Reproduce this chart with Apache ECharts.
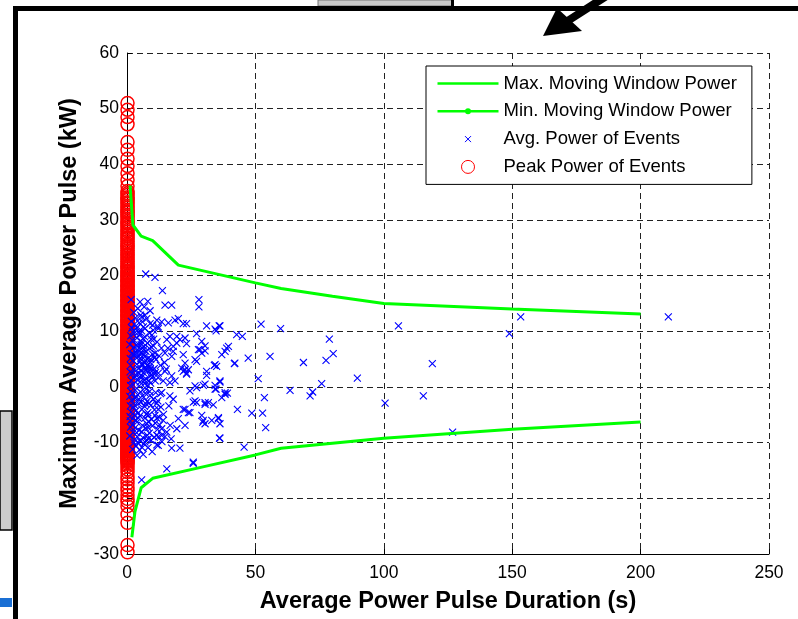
<!DOCTYPE html>
<html>
<head>
<meta charset="utf-8">
<script src="https://cdn.jsdelivr.net/npm/echarts@6/dist/echarts.min.js"></script>
<style>
html,body{margin:0;padding:0;background:#fff;}
#chart{width:798px;height:619px;}
</style>
</head>
<body>
<div id="chart"></div>
<script>
// ---- Data ----
const xTicks = [0, 50, 100, 150, 200, 250];
const yTicks = [-30, -20, -10, 0, 10, 20, 30, 40, 50, 60];

const seriesNames = ['Max. Moving Window Power', 'Min. Moving Window Power', 'Avg. Power of Events', 'Peak Power of Events'];

// Max / min moving window power: [duration (s), power (kW)]
const maxWindow = [[1.2,36.2],[2.3,29.1],[5.5,27.1],[10,26.3],[20,21.9],[50,18.7],[60,17.7],[80,16.3],[100,15.0],[150,14.0],[200,13.1]];
const minWindow = [[1.9,-27.0],[3.1,-22.4],[5.5,-18.1],[10,-16.4],[30,-14.3],[50,-12.2],[60,-11.0],[80,-10.1],[100,-9.2],[150,-7.6],[200,-6.3]];

// Average power of events: [duration (s), power (kW)]
const avgEvents = [
 // dense core, positive side
 [1.5,9.2],[2.1,8.4],[2.6,7.1],[3.2,9.8],[3.5,6.2],[3.9,8.8],[4.3,5.4],[4.6,7.6],[5.0,9.5],[5.2,4.6],[5.5,6.8],[5.8,8.1],[6.1,3.9],[6.3,5.7],[6.6,7.3],[6.9,9.0],[7.2,4.8],[7.4,6.4],[7.7,2.9],[8.0,7.9],[8.3,5.2],[8.5,3.6],[8.8,6.9],[9.1,4.4],[9.4,8.6],[9.6,2.2],[9.9,5.9],[10.3,7.4],[10.6,3.3],[10.9,6.1],[11.3,4.9],[11.7,8.1],[12.1,1.7],[12.5,5.6],[13.0,3.9],[13.4,7.0],
 [2.3,4.8],[2.8,3.1],[3.0,5.6],[3.4,2.2],[3.8,4.1],[4.1,1.3],[4.4,3.3],[4.8,2.5],[5.1,0.9],[5.4,3.0],[5.9,1.8],[6.4,2.6],[6.8,0.6],[7.3,1.5],[7.9,0.3],[8.6,1.1],[9.2,0.7],[1.8,6.0],[1.4,3.9],[1.6,1.2],[2.0,2.5],[2.4,0.4],[4.0,6.7],[4.9,5.9],[6.0,6.1],[7.0,5.5],[8.1,4.0],[9.0,3.1],[10.0,1.9],[11.0,2.6],[3.6,7.5],[5.6,4.1],[6.7,4.4],[7.6,3.4],[4.5,9.9],[6.4,10.8],[8.8,9.7],[2.9,11.3],[3.3,12.4],[5.3,12.9],[1.9,10.6],
 [1.1,7.6],[1.3,5.1],[1.2,2.7],[1.4,0.3],[1.7,11.8],[2.2,9.9],[2.5,5.9],[2.7,1.6],[3.8,10.6],[4.7,11.5],[2.6,13.4],[4.2,14.1],[4.8,0.2],[5.0,1.8],[5.3,5.2],[5.5,7.6],[5.7,10.1],[6.0,11.7],[6.2,8.7],[6.5,6.7],[6.7,3.3],[6.9,1.2],[9.0,2.0],[9.2,5.0],[9.4,7.2],[9.7,9.3],[10.0,11.1],[10.4,8.6],[10.7,5.3],[11.0,1.1],[14.6,4.4],[15.3,3.2],[15.9,7.0],
 // dense core, negative side
 [1.5,-0.8],[1.8,-2.4],[2.2,-1.2],[2.5,-3.6],[2.8,-5.1],[3.1,-0.5],[3.3,-2.0],[3.6,-4.2],[3.9,-6.3],[4.2,-1.4],[4.5,-3.0],[4.7,-7.8],[5.0,-5.2],[5.3,-0.9],[5.5,-2.7],[5.8,-4.0],[6.0,-6.9],[6.2,-9.1],[6.5,-1.8],[6.8,-3.5],[7.0,-5.6],[7.3,-7.4],[7.5,-0.4],[7.8,-2.6],[8.1,-4.6],[8.4,-6.2],[8.7,-8.3],[9.0,-1.5],[9.3,-3.3],[9.6,-5.8],[9.9,-7.0],[10.3,-2.2],[10.7,-4.1],[11.0,-6.5],[11.5,-3.0],[11.9,-7.6],[12.4,-5.4],[13.0,-1.2],[2.0,-6.8],[2.4,-8.2],[3.0,-9.4],[3.5,-10.6],[4.0,-8.9],[4.4,-5.6],[5.2,-9.7],[5.7,-8.0],[6.6,-10.2],[7.7,-9.5],[8.2,-10.9],[3.2,-7.3],[1.6,-4.5],[1.3,-6.1],[2.7,-10.0],[4.9,-11.3],[9.4,-9.6],
 [1.1,-1.7],[1.3,-3.4],[1.2,-5.3],[1.4,-7.2],[1.1,-8.8],[2.9,-1.9],[3.0,-3.3],[3.4,-5.9],[3.7,-8.2],[4.1,-9.9],[4.3,-4.7],[4.6,-2.2],[7.1,-1.1],[7.3,-3.0],[7.5,-4.9],[7.7,-6.6],[7.9,-8.7],[8.2,-7.3],[8.4,-5.1],[8.6,-2.9],[8.8,-0.8],[11.2,-1.0],[11.6,-5.6],[12.0,-2.5],[12.3,-8.9],[12.7,-6.8],[13.2,-3.6],[13.6,-9.8],[14.2,-4.9],[16.3,-3.4],[16.8,-6.9],[17.2,-9.3],[9.8,-11.6],[10.6,-9.0],[2.2,-11.2],[3.9,-12.3],[5.9,-10.9],
 // middle range
 [7.3,20.3],[10.9,19.7],[13.8,17.3],[1.6,15.7],[5.1,15.3],[8.1,15.4],[6.7,14.4],[9.0,13.7],[14.8,14.7],[17.4,14.7],[28.0,15.7],[28.0,14.4],[7.0,12.9],[5.7,12.6],[7.7,12.3],[11.6,12.0],[9.0,11.4],[13.5,11.7],[12.2,10.8],[16.1,11.5],[18.7,12.0],[20.0,12.3],[21.9,11.4],[23.2,11.4],[31.0,11.0],[34.3,10.4],[36.2,11.0],[7.0,10.5],[10.2,10.2],[12.2,10.5],[19.4,9.1],[22.6,8.8],[23.2,7.8],[29.1,8.2],[30.4,7.4],[27.8,6.7],[36.9,5.8],[38.2,6.4],[34.3,4.0],[34.9,3.7],[31.0,2.8],[42.0,4.3],[26.5,4.9],[22.6,4.3],[23.9,3.1],[17.4,5.5],[14.8,6.1],[16.7,9.1],[15.5,8.5],[18.0,7.3],[19.4,7.9],[20.6,8.5],[18.0,6.4],[21.9,5.8],[27.1,9.6],
 [10.2,3.1],[12.2,2.5],[14.8,2.8],[17.4,2.0],[18.7,1.1],[21.9,2.8],[23.2,2.3],[21.3,3.4],[27.1,-0.1],[26.5,0.2],[30.4,0.5],[34.3,-0.4],[36.2,0.9],[38.2,-1.3],[36.9,-1.9],[26.5,-2.5],[30.4,-2.8],[33.6,-3.2],[22.6,-4.0],[24.5,-4.6],[20.0,-5.7],[22.6,-6.9],[19.4,-7.5],[15.5,-8.1],[29.1,-5.1],[29.7,-6.0],[30.4,-6.6],[35.6,-5.7],[36.2,-6.6],[12.2,-4.0],[10.9,-5.1],[14.1,-6.0],[14.8,-8.9],[13.5,-8.7],[17.4,-11.0],[20.6,-11.0],[11.6,-10.4],[6.3,-12.1],[36.2,-9.2],[25.8,-13.5],[15.5,-14.7],[5.7,-16.7],[7.0,-9.9],[8.3,-9.3],[12.2,-10.5],[14.1,1.1],[16.7,0.8],[13.5,-1.0],[18.0,-2.2],[16.7,-1.6],[11.6,-8.7],[13.5,-7.5],[21.9,-4.0],[23.9,-4.6],[24.5,-0.7],[29.7,0.3],[34.3,0.3],[23.2,2.5],[22.6,3.1],[27.1,4.6],[29.1,6.1],[28.4,6.7],[30.4,6.5],
 // sparse, longer events
 [39.5,7.3],[38.8,7.0],[44.9,9.1],[42.7,9.4],[35.9,11.0],[34.7,10.1],[52.2,11.3],[59.8,10.5],[55.7,5.5],[47.2,5.2],[41.8,4.2],[68.7,4.4],[77.5,4.8],[51.1,1.5],[75.8,0.6],[72.3,-0.9],[71.3,-1.6],[63.5,-0.6],[53.5,-1.9],[34.0,3.9],[31.0,2.1],[36.2,1.1],[34.7,-0.4],[38.2,-1.0],[39.1,-1.1],[43.0,-4.0],[48.6,-4.7],[52.8,-4.7],[54.0,-7.3],[36.0,-9.2],[45.6,-10.8],[25.8,-13.7],[78.8,8.6],[80.3,6.0],[89.7,1.6],[105.7,11.0],[118.9,4.2],[100.5,-2.9],[115.4,-1.6],[126.8,-8.1],[148.9,9.6],[153.3,12.6],[210.8,12.6],[33.0,-6.0],[35.6,-5.5],[29.5,-6.3],[31.7,-2.8],[30.4,-3.1],[27.1,-2.8],[25.8,-2.7]
];

// Peak power of events (kW), all at very short durations
const peakDuration = 0.2;
const peakPower = [
 51.0,49.8,48.5,47.2,44.0,42.6,41.0,39.7,38.4,37.2,36.1,35.2,
 34.8,34.5,34.1,33.8,33.6,33.2,32.9,32.5,32.2,31.8,31.5,31.3,30.9,30.6,30.2,29.8,29.5,29.3,28.9,28.6,28.2,27.9,27.5,27.2,26.8,26.6,26.2,25.8,25.5,25.3,24.9,24.5,24.2,23.8,23.6,23.2,22.9,22.5,22.2,21.8,21.6,21.3,20.9,20.6,20.4,20.1,
 19.9,19.7,19.4,19.2,19.0,18.8,18.5,18.3,18.1,17.9,17.6,17.4,17.2,17.0,16.7,16.5,16.3,16.1,15.8,15.6,15.4,15.2,14.9,14.7,14.5,14.3,14.0,13.8,13.6,13.4,13.1,12.9,12.7,12.5,12.2,12.0,11.8,11.6,11.3,11.1,10.9,10.7,10.4,10.2,
 10.0,9.8,9.7,9.5,9.3,9.2,9.0,8.8,8.7,8.5,8.4,8.2,8.0,7.9,7.7,7.5,7.4,7.2,7.1,6.9,6.7,6.6,6.4,6.2,6.1,5.9,5.8,5.6,5.4,5.3,5.1,4.9,4.8,4.6,4.5,4.3,4.1,4.0,3.8,3.6,3.5,3.3,3.2,3.0,2.8,2.7,2.5,2.3,2.2,2.0,1.9,1.7,1.5,1.4,1.2,1.0,0.9,0.7,0.6,0.4,0.2,0.1,
 -0.1,-0.3,-0.4,-0.6,-0.7,-0.9,-1.1,-1.2,-1.4,-1.6,-1.7,-1.9,-2.0,-2.2,-2.4,-2.5,-2.7,-2.9,-3.0,-3.2,-3.3,-3.5,-3.7,-3.8,-4.0,-4.2,-4.3,-4.5,-4.6,-4.8,-5.0,-5.1,-5.3,-5.5,-5.6,-5.8,-5.9,-6.1,-6.3,-6.4,-6.6,-6.8,-6.9,-7.1,-7.2,-7.4,-7.6,-7.7,-7.9,-8.1,-8.2,-8.4,-8.5,-8.7,-8.9,-9.0,-9.2,-9.4,-9.5,-9.7,-9.8,-10.0,-10.2,-10.3,-10.5,-10.7,-10.8,-11.0,-11.1,-11.3,-11.5,-11.6,-11.8,-12.0,-12.1,-12.3,-12.4,-12.6,-12.8,-12.9,-13.1,-13.3,-13.5,-13.8,
 -14.2,-14.8,-15.3,-16.0,-16.6,-17.3,-18.0,-18.6,-19.4,-20.1,-20.6,-21.4,-22.9,-24.4,-28.4,-29.7
];

// ---- Chart ----
const FONT = "'Liberation Sans', Arial, Helvetica, sans-serif";
const GREEN = '#00ff00', BLUE = '#0000ff', RED = '#ff0000';
const CROSS = 'path://M0,0M20,20M5,5L15,15M15,5L5,15';

const chart = echarts.init(document.getElementById('chart'), null, {renderer: 'canvas'});
chart.setOption({
  animation: false,
  backgroundColor: '#ffffff',
  textStyle: {fontFamily: FONT, color: '#000'},
  grid: {left: 127, right: 29, top: 53, bottom: 59, containLabel: false},
  xAxis: {
    type: 'value', min: xTicks[0], max: xTicks[xTicks.length - 1], interval: 50,
    name: 'Average Power Pulse Duration (s)', nameLocation: 'middle', nameGap: 36,
    nameTextStyle: {fontFamily: FONT, fontSize: 23.5, fontWeight: 'bold', color: '#000'},
    axisLine: {show: true, onZero: false, lineStyle: {color: '#000', width: 1}},
    axisTick: {show: true, inside: true, length: 5, lineStyle: {color: '#000'}},
    axisLabel: {fontFamily: FONT, fontSize: 17.5, color: '#000', margin: 10},
    splitLine: {show: true, lineStyle: {color: '#222', type: [6, 4], width: 1}}
  },
  yAxis: {
    type: 'value', min: yTicks[0], max: yTicks[yTicks.length - 1], interval: 10,
    name: 'Maximum Average Power Pulse (kW)', nameLocation: 'middle', nameGap: 45,
    nameTextStyle: {fontFamily: FONT, fontSize: 23.5, fontWeight: 'bold', color: '#000'},
    axisLine: {show: true, onZero: false, lineStyle: {color: '#000', width: 1}},
    axisTick: {show: true, inside: true, length: 5, lineStyle: {color: '#000'}},
    axisLabel: {fontFamily: FONT, fontSize: 17.5, color: '#000', margin: 8},
    splitLine: {show: true, lineStyle: {color: '#222', type: [6, 4], width: 1}}
  },
  legend: {
    orient: 'vertical', left: 426, top: 66,
    padding: [8, 15, 8, 11], itemGap: 8.8, itemWidth: 61, itemHeight: 13,
    backgroundColor: '#fff', borderColor: '#000', borderWidth: 1, borderRadius: 0,
    selectedMode: false,
    textStyle: {fontFamily: FONT, fontSize: 18.5, color: '#000'},
    data: [
      {name: seriesNames[0], icon: 'path://M0,0M61,13M0,5.2L61,5.2L61,7.8L0,7.8Z', itemStyle: {color: GREEN, borderWidth: 0}},
      {name: seriesNames[1], icon: 'path://M0,0M61,13M0,5.2L61,5.2L61,7.8L0,7.8ZM33.5,6.5A3,3,0,1,1,27.5,6.5A3,3,0,1,1,33.5,6.5Z', itemStyle: {color: GREEN, borderWidth: 0}},
      {name: seriesNames[2], icon: 'path://M0,0M61,13M27.5,3.5L33.5,9.5M33.5,3.5L27.5,9.5', itemStyle: {color: 'transparent', borderColor: BLUE, borderWidth: 1}},
      {name: seriesNames[3], icon: 'circle', itemStyle: {color: 'transparent', borderColor: RED, borderWidth: 1}}
    ]
  },
  series: [
    {
      name: seriesNames[0], type: 'line', data: maxWindow, symbol: 'none', z: 3,
      lineStyle: {color: GREEN, width: 3}, itemStyle: {color: GREEN}
    },
    {
      name: seriesNames[1], type: 'line', data: minWindow, symbol: 'none', z: 3,
      lineStyle: {color: GREEN, width: 3}, itemStyle: {color: GREEN}
    },
    {
      name: seriesNames[2], type: 'scatter', data: avgEvents, symbol: CROSS, symbolSize: 14, z: 2,
      itemStyle: {color: 'transparent', borderColor: BLUE, borderWidth: 1.1, opacity: 1}
    },
    {
      name: seriesNames[3], type: 'scatter', data: peakPower.map(p => [peakDuration, p]),
      symbol: 'circle', symbolSize: 13, z: 1,
      itemStyle: {color: 'transparent', borderColor: RED, borderWidth: 1.5, opacity: 1}
    }
  ],
  graphic: [
    // page decorations around the figure
    {type: 'rect', shape: {x: 318, y: 0, width: 134, height: 6}, style: {fill: '#cacaca', stroke: '#777', lineWidth: 1}, z: 100},
    {type: 'rect', shape: {x: 451, y: 0, width: 3, height: 8}, style: {fill: '#000'}, z: 100},
    {type: 'rect', shape: {x: 13, y: 6, width: 785, height: 5}, style: {fill: '#000'}, z: 100},
    {type: 'rect', shape: {x: 13, y: 6, width: 5, height: 613}, style: {fill: '#000'}, z: 100},
    {type: 'rect', shape: {x: 0, y: 411, width: 12, height: 119}, style: {fill: '#cccccc', stroke: '#000', lineWidth: 1.5}, z: 100},
    {type: 'rect', shape: {x: 0, y: 598, width: 12, height: 9}, style: {fill: '#1a6fd4'}, z: 100},
    {type: 'line', shape: {x1: 566, y1: 22, x2: 608, y2: -5}, style: {stroke: '#000', lineWidth: 8}, z: 100},
    {type: 'polygon', shape: {points: [[543, 36], [557, 8], [582, 31]]}, style: {fill: '#000'}, z: 100}
  ]
});
</script>
</body>
</html>
